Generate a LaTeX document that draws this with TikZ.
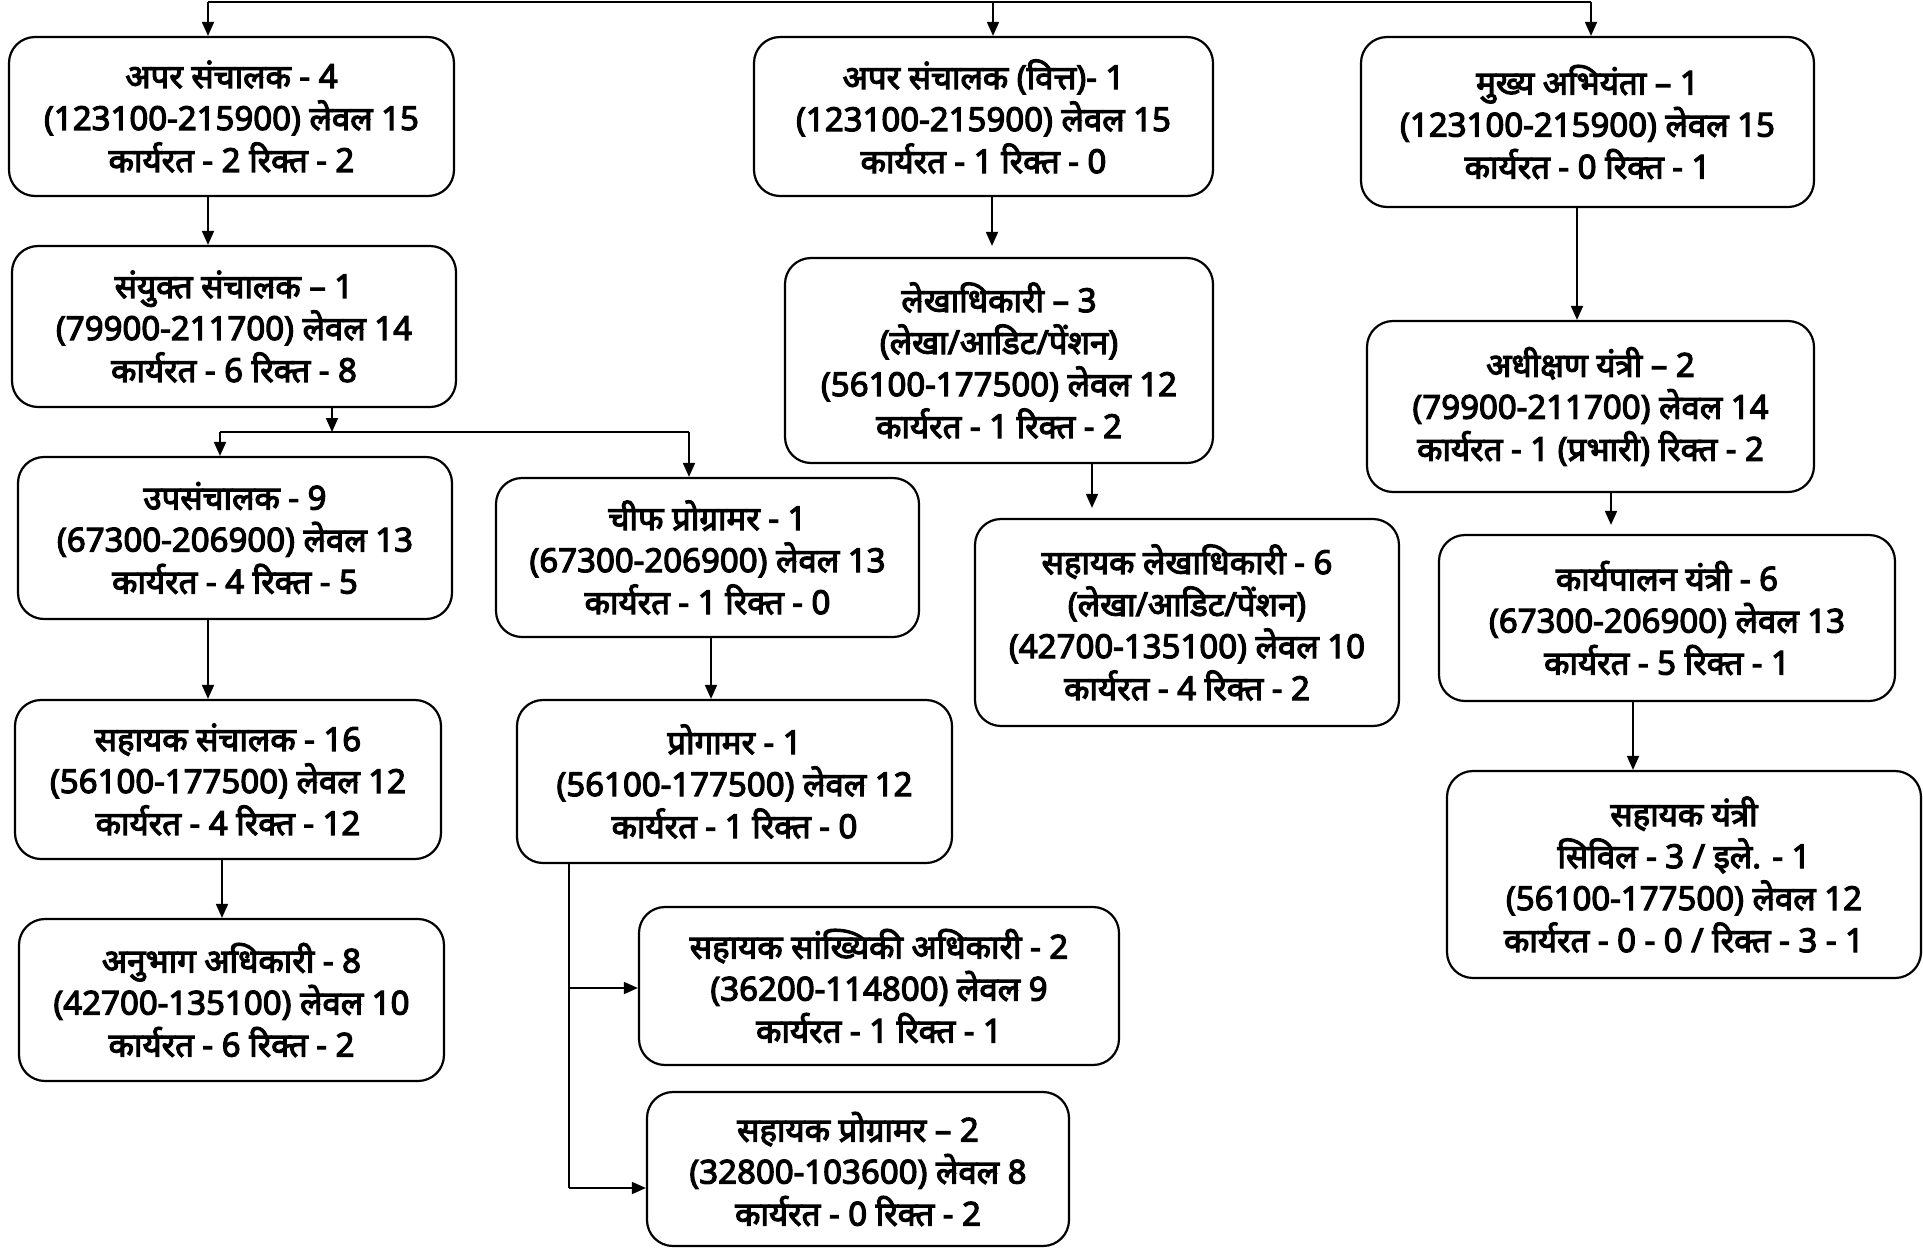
\documentclass[tikz,border=0pt]{standalone}
\usepackage{fontspec}
\newfontfamily\devb{Noto Sans}[Script=Devanagari, FakeBold=3.5]
\usetikzlibrary{arrows.meta}
\tikzset{
  box/.style={draw, line width=2.2pt, rounded corners=26pt, inner sep=0pt, align=center,
    font=\devb\fontsize{33}{42}\selectfont},
  arr/.style={line width=1.8pt, -{Triangle[length=14pt,width=12pt]}},
  ln/.style={line width=1.8pt}
}
\begin{document}
\begin{tikzpicture}[x=1pt,y=-1pt]
\useasboundingbox (0,0) rectangle (1923,1248);
% boxes
\node[box, minimum width=445, minimum height=159] (b1) at (231.5,116.5) {अपर संचालक - 4\\(123100-215900) लेवल 15\\कार्यरत - 2 रिक्त - 2};
\node[box, minimum width=459, minimum height=159] (b2) at (983.5,116.5) {अपर संचालक (वित्त)- 1\\(123100-215900) लेवल 15\\कार्यरत - 1 रिक्त - 0};
\node[box, minimum width=453, minimum height=170] (b3) at (1587.5,122) {मुख्य अभियंता – 1\\(123100-215900) लेवल 15\\कार्यरत - 0 रिक्त - 1};
\node[box, minimum width=444, minimum height=161] (b4) at (234,326.5) {संयुक्त संचालक – 1\\(79900-211700) लेवल 14\\कार्यरत - 6 रिक्त - 8};
\node[box, minimum width=428, minimum height=205] (b5) at (999,360.5) {लेखाधिकारी – 3\\(लेखा/आडिट/पेंशन)\\(56100-177500) लेवल 12\\कार्यरत - 1 रिक्त - 2};
\node[box, minimum width=447, minimum height=171] (b6) at (1590.5,406.5) {अधीक्षण यंत्री – 2\\(79900-211700) लेवल 14\\कार्यरत - 1 (प्रभारी) रिक्त - 2};
\node[box, minimum width=434, minimum height=162] (b7) at (235,538) {उपसंचालक - 9\\(67300-206900) लेवल 13\\कार्यरत - 4 रिक्त - 5};
\node[box, minimum width=423, minimum height=159] (b8) at (707.5,557.5) {चीफ प्रोग्रामर - 1\\(67300-206900) लेवल 13\\कार्यरत - 1 रिक्त - 0};
\node[box, minimum width=424, minimum height=207] (b9) at (1187,622.5) {सहायक लेखाधिकारी - 6\\(लेखा/आडिट/पेंशन)\\(42700-135100) लेवल 10\\कार्यरत - 4 रिक्त - 2};
\node[box, minimum width=456, minimum height=166] (b10) at (1667,618) {कार्यपालन यंत्री - 6\\(67300-206900) लेवल 13\\कार्यरत - 5 रिक्त - 1};
\node[box, minimum width=426, minimum height=159] (b11) at (228,779.5) {सहायक संचालक - 16\\(56100-177500) लेवल 12\\कार्यरत - 4 रिक्त - 12};
\node[box, minimum width=435, minimum height=163] (b12) at (734.5,781.5) {प्रोगामर - 1\\(56100-177500) लेवल 12\\कार्यरत - 1 रिक्त - 0};
\node[box, minimum width=474, minimum height=207] (b13) at (1684,874.5) {सहायक यंत्री\\सिविल - 3 / इले. - 1\\(56100-177500) लेवल 12\\कार्यरत - 0 - 0 / रिक्त - 3 - 1};
\node[box, minimum width=425, minimum height=162] (b14) at (231.5,1000) {अनुभाग अधिकारी - 8\\(42700-135100) लेवल 10\\कार्यरत - 6 रिक्त - 2};
\node[box, minimum width=480, minimum height=158] (b15) at (879,986) {सहायक सांख्यिकी अधिकारी - 2\\(36200-114800) लेवल 9\\कार्यरत - 1 रिक्त - 1};
\node[box, minimum width=422, minimum height=154] (b16) at (858,1169) {सहायक प्रोग्रामर – 2\\(32800-103600) लेवल 8\\कार्यरत - 0 रिक्त - 2};
% top bus
\coordinate (tL) at (208,2);
\coordinate (tM) at (993,2);
\coordinate (tR) at (1591,2);
\draw[ln] (tL) -- (tR);
\draw[arr] (tL) -- (tL |- b1.north);
\draw[arr] (tM) -- (tM |- b2.north);
\draw[arr] (tR) -- (tR |- b3.north);
% left column
\coordinate (c1) at (208,0);
\draw[arr] (c1 |- b1.south) -- (c1 |- b4.north);
\coordinate (sp) at (332,432);
\coordinate (spL) at (220,432);
\coordinate (spR) at (689,432);
\draw[arr] (sp |- b4.south) -- (sp);
\draw[ln] (spL) -- (spR);
\draw[arr] (spL) -- (spL |- b7.north);
\draw[arr] (spR) -- (spR |- b8.north);
\coordinate (c2) at (208,0);
\draw[arr] (c2 |- b7.south) -- (c2 |- b11.north);
\coordinate (c3) at (711,0);
\draw[arr] (c3 |- b8.south) -- (c3 |- b12.north);
\coordinate (c4) at (222,0);
\draw[arr] (c4 |- b11.south) -- (c4 |- b14.north);
% programmer branches
\coordinate (pv) at (569,0);
\coordinate (pb1) at (569,988);
\coordinate (pb2) at (569,1188);
\draw[ln] (pv |- b12.south) -- (pb2);
\draw[arr] (pb1) -- (pb1 -| b15.west);
\draw[arr] (pb2) -- (pb2 -| b16.west);
% finance column
\coordinate (c5) at (992,0);
\draw[arr, shorten >=11pt] (c5 |- b2.south) -- (c5 |- b5.north);
\coordinate (c6) at (1092,0);
\draw[arr, shorten >=10pt] (c6 |- b5.south) -- (c6 |- b9.north);
% engineering column
\coordinate (c7) at (1577,0);
\draw[arr] (c7 |- b3.south) -- (c7 |- b6.north);
\coordinate (c8) at (1611,0);
\draw[arr, shorten >=9pt] (c8 |- b6.south) -- (c8 |- b10.north);
\coordinate (c9) at (1633,0);
\draw[arr] (c9 |- b10.south) -- (c9 |- b13.north);
\end{tikzpicture}
\end{document}
